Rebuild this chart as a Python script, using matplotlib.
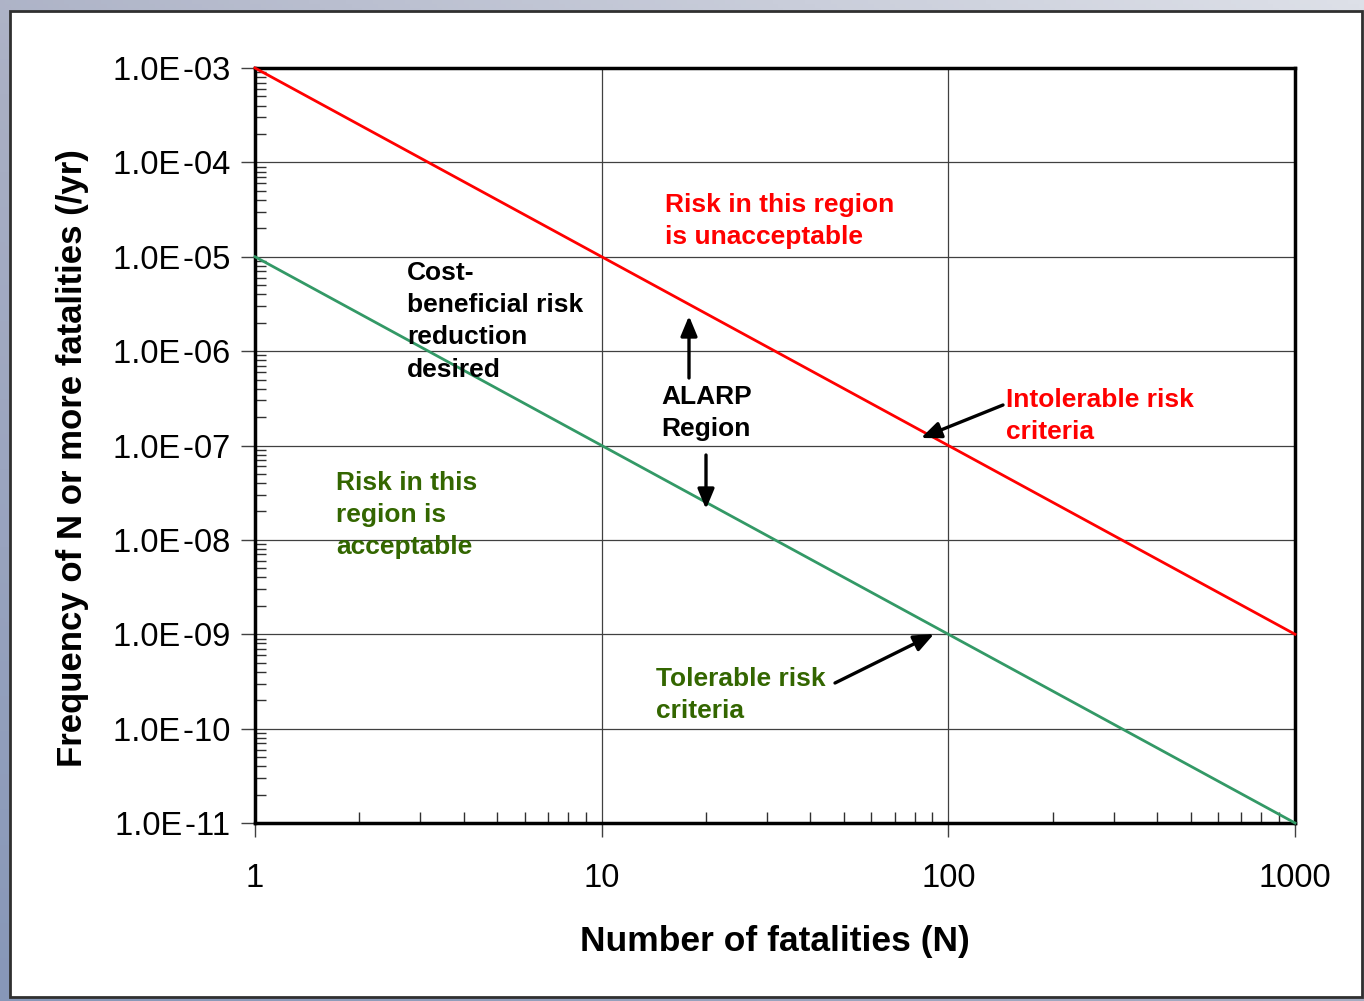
import numpy as np
import matplotlib.pyplot as plt
from matplotlib.patches import Rectangle
from matplotlib.colors import LinearSegmentedColormap
from matplotlib.ticker import LogLocator, FixedLocator, NullFormatter

plt.rcParams['font.family'] = ['Liberation Sans', 'DejaVu Sans']

# F-N criteria lines (end points on the log-log grid)
n_pts = [1, 1000]
intolerable = [1e-3, 1e-9]
tolerable = [1e-5, 1e-11]

x_ticks = [1, 10, 100, 1000]
x_labels = ['1', '10', '100', '1000']
y_ticks = [1e-11, 1e-10, 1e-9, 1e-8, 1e-7, 1e-6, 1e-5, 1e-4, 1e-3]
y_labels = ['1.0E\u200a-11', '1.0E\u200a-10', '1.0E\u200a-09', '1.0E\u200a-08',
            '1.0E\u200a-07', '1.0E\u200a-06', '1.0E\u200a-05', '1.0E\u200a-04',
            '1.0E\u200a-03']

RED = '#ff0000'
LINE_GREEN = '#339966'
TEXT_GREEN = '#336600'

fig = plt.figure(figsize=(13.64, 10.01), dpi=100)

# slide-style backdrop: blue-grey gradient with a white panel on top
bg = fig.add_axes([0, 0, 1, 1], zorder=-10)
slate = LinearSegmentedColormap.from_list('slate', ['#dde0e8', '#a9afc4', '#8797b8'])
grad = np.linspace(0, 1, 256)
gx, gy = np.meshgrid(grad, grad)
bg.imshow(0.45 * (1 - gx) + 0.55 * (1 - gy), cmap=slate, vmin=0, vmax=1,
          extent=[0, 1, 0, 1], aspect='auto', origin='lower')
bg.add_patch(Rectangle((10 / 1364, 1 - 997 / 1001), 1352 / 1364, 986 / 1001,
                       facecolor='white', edgecolor='#303030', lw=2.0))
bg.set_xlim(0, 1)
bg.set_ylim(0, 1)
bg.axis('off')

ax = fig.add_axes([255 / 1364, 1 - 823 / 1001, 1040 / 1364, 755 / 1001])
ax.set_xscale('log')
ax.set_yscale('log')
ax.set_xlim(1, 1000)
ax.set_ylim(1e-11, 1e-3)

ax.plot(n_pts, intolerable, color=RED, lw=2.0, zorder=3, clip_on=False)
ax.plot(n_pts, tolerable, color=LINE_GREEN, lw=2.0, zorder=3, clip_on=False)

ax.xaxis.set_major_locator(FixedLocator(x_ticks))
ax.set_xticklabels(x_labels)
ax.yaxis.set_major_locator(FixedLocator(y_ticks))
ax.set_yticklabels(y_labels)
ax.xaxis.set_minor_locator(LogLocator(base=10, subs=np.arange(2, 10)))
ax.yaxis.set_minor_locator(LogLocator(base=10, subs=np.arange(2, 10), numticks=20))
ax.xaxis.set_minor_formatter(NullFormatter())
ax.yaxis.set_minor_formatter(NullFormatter())

ax.grid(which='major', color='#404040', lw=0.9)
ax.set_axisbelow(True)
ax.tick_params(which='major', direction='out', length=10, width=1.0,
               color='#404040', labelsize=23.5)
ax.tick_params(axis='x', which='major', pad=19)
ax.tick_params(axis='y', which='major', pad=8)
ax.tick_params(which='minor', direction='in', length=8, width=1.0, color='#303030')
for s in ax.spines.values():
    s.set_linewidth(2.5)
    s.set_color('black')

ax.set_xlabel('Number of fatalities (N)', fontsize=25.5, fontweight='bold', labelpad=22)
ax.set_ylabel('Frequency of N or more fatalities (/yr)', fontsize=25,
              fontweight='bold', labelpad=17)
ax.yaxis.label.set_y(0.484)

# region / criteria annotations (placed in pixel coordinates of the figure)
def label(px, py, text, color):
    fig.text(px / 1364, 1 - py / 1001, text, color=color, fontsize=19,
             fontweight='bold', va='top', ha='left', linespacing=1.43)

label(665, 193, 'Risk in this region\nis unacceptable', RED)
label(407, 261, 'Cost-\nbeneficial risk\nreduction\ndesired', 'black')
label(661, 385, 'ALARP\nRegion', 'black')
label(1006, 388, 'Intolerable risk\ncriteria', RED)
label(336, 471, 'Risk in this\nregion is\nacceptable', TEXT_GREEN)
label(656, 667, 'Tolerable risk\ncriteria', TEXT_GREEN)

def arrow(x0, y0, x1, y1):
    fig.add_artist(plt.Annotation(
        '', xy=(x1 / 1364, 1 - y1 / 1001), xytext=(x0 / 1364, 1 - y0 / 1001),
        xycoords='figure fraction', textcoords='figure fraction',
        arrowprops=dict(arrowstyle='-|>,head_length=1.2,head_width=0.5',
                        color='black', lw=2.4, shrinkA=0, shrinkB=0)))

arrow(689, 378, 689, 316)
arrow(706, 455, 706, 509)
arrow(1003, 405, 921, 438)
arrow(835, 683, 934, 634)

fig.savefig('out.png', dpi=100)
